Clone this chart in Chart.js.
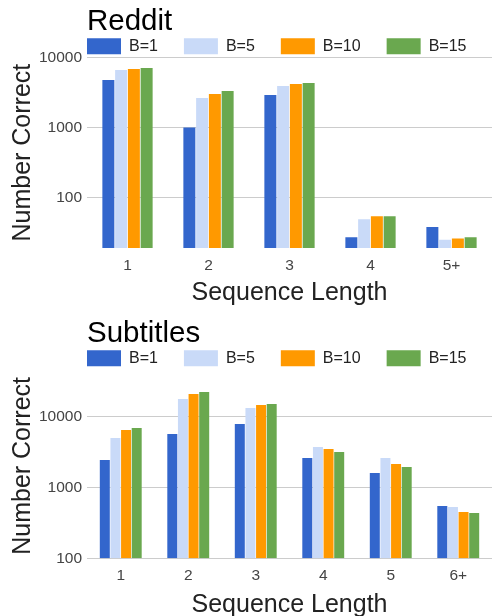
<!DOCTYPE html>
<html>
<head>
<meta charset="utf-8">
<script src="https://cdn.jsdelivr.net/npm/chart.js@4/dist/chart.umd.min.js"></script>
<style>
  html, body { margin: 0; padding: 0; background: #fff; }
  canvas { display: block; }
</style>
</head>
<body>
<canvas id="c1" width="492" height="312"></canvas>
<canvas id="c2" width="492" height="304"></canvas>
<script>
// ---- data ----
const seriesNames = ['B=1', 'B=5', 'B=10', 'B=15'];
const seriesColors = ['#3366cc', '#c9daf8', '#ff9900', '#6aa84f'];

const redditCategories = ['1', '2', '3', '4', '5+'];
const redditB1  = [4740, 1000, 2890, 27, 38];
const redditB5  = [6590, 2620, 3890, 49, 25];
const redditB10 = [6810, 2990, 4160, 54, 26];
const redditB15 = [7030, 3300, 4300, 54, 27];

const subsCategories = ['1', '2', '3', '4', '5', '6+'];
const subsB1  = [2430, 5640, 7800, 2590, 1590, 546];
const subsB5  = [4940, 17540, 13100, 3700, 2590, 528];
const subsB10 = [6410, 20600, 14430, 3470, 2130, 449];
const subsB15 = [6840, 22000, 14900, 3140, 1930, 435];

const yTickValues = [100, 1000, 10000];

const FONT = "'Liberation Sans', Arial, sans-serif";

const legendPlace = {
  id: 'legendPlace',
  afterLayout(chart) {
    const lg = chart.legend;
    const p = lg.options.labels.padding;
    lg.left = chart.chartArea.left - p;
    lg.right = lg.left + 2000;
    lg.top = 38.3 - p;
  }
};

function makeChart(id, title, cats, series, yMin, yMax, legendMaxH, xAxisH, xTitlePadBottom) {
  const datasets = series.map((d, i) => ({
    label: seriesNames[i],
    data: d,
    backgroundColor: seriesColors[i],
    borderWidth: 0,
    categoryPercentage: 0.63,
    barPercentage: 0.94
  }));
  return new Chart(document.getElementById(id), {
    type: 'bar',
    data: { labels: cats, datasets },
    plugins: [legendPlace],
    options: {
      responsive: false,
      animation: false,
      devicePixelRatio: 1,
      layout: { padding: 0 },
      plugins: {
        title: {
          display: true, text: title, align: 'start', fullSize: false,
          color: '#000', font: { family: FONT, size: 29.5, weight: 'normal' },
          padding: { top: 3.8, bottom: 0 }
        },
        legend: {
          display: true, position: 'top', align: 'start', maxHeight: legendMaxH,
          labels: {
            boxWidth: 34, boxHeight: 16, padding: 26, color: '#222',
            font: { family: FONT, size: 16 }
          }
        },
        tooltip: { enabled: false }
      },
      scales: {
        x: {
          grid: { display: false, drawTicks: false },
          border: { display: false },
          ticks: { color: '#444', font: { family: FONT, size: 15.5 }, padding: 8, maxRotation: 0 },
          title: {
            display: true, text: 'Sequence Length', color: '#222',
            font: { family: FONT, size: 25 }, padding: { top: 0, bottom: xTitlePadBottom }
          },
          afterFit(s) { s.height = xAxisH; }
        },
        y: {
          type: 'logarithmic',
          min: yMin, max: yMax,
          grid: { color: '#cccccc', drawTicks: false, lineWidth: 1 },
          border: { display: false },
          afterBuildTicks(s) {
            s.ticks = yTickValues.filter(v => v >= s.min && v <= s.max).map(v => ({ value: v, major: false }));
          },
          ticks: {
            color: '#444', font: { family: FONT, size: 15.5 }, padding: 5,
            callback: v => String(v)
          },
          title: {
            display: true, text: 'Number Correct', color: '#222',
            font: { family: FONT, size: 25 }, padding: { top: 8, bottom: 0 }
          },
          afterFit(s) { s.width = 87; }
        }
      }
    }
  });
}

makeChart('c1', 'Reddit', redditCategories, [redditB1, redditB5, redditB10, redditB15],
  19, 10000, 18.1, 64, 3.5);
makeChart('c2', 'Subtitles', subsCategories, [subsB1, subsB5, subsB10, subsB15],
  100, 40000, 22.3, 57.7, -4);
</script>
</body>
</html>
